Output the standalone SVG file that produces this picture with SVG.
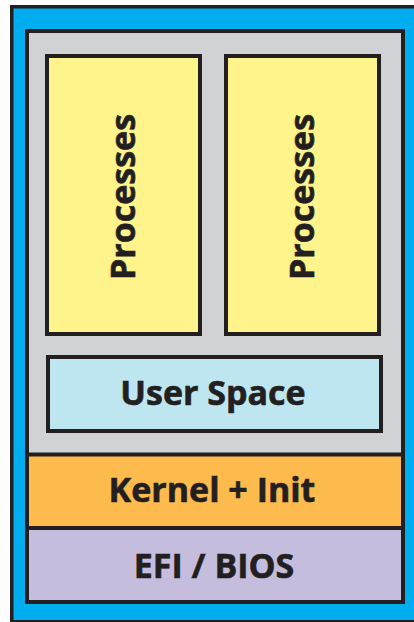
<svg xmlns="http://www.w3.org/2000/svg" width="414" height="622" viewBox="0 0 414 622">
<style>
.box{stroke:#231f20;stroke-width:4}
.lbl{font-family:"Open Sans","Liberation Sans",sans-serif;font-weight:700;fill:#231f20;stroke:#231f20;stroke-width:0.6;text-anchor:middle}
</style>
<rect width="414" height="622" fill="#ffffff"/>
<g id="outer">
<rect x="11.75" y="6.75" width="410" height="615" fill="#00aeef" stroke="#231f20" stroke-width="3.5"/>
</g>
<g id="system">
<rect class="box" x="27" y="31" width="376" height="571" fill="#d1d2d4"/>
</g>
<g id="kernel">
<rect class="box" x="27" y="454.5" width="376" height="73.5" fill="#fdbb4e"/>
<text class="lbl" x="212" y="502" font-size="34">Kernel + Init</text>
</g>
<g id="efi">
<rect class="box" x="27" y="528" width="376" height="74" fill="#c4bddd"/>
<text class="lbl" x="214" y="578" font-size="34">EFI / BIOS</text>
</g>
<g id="userspace">
<rect class="box" x="48" y="357" width="333" height="74" fill="#bee6f1"/>
<text class="lbl" x="213" y="405" font-size="34">User Space</text>
</g>
<g id="processes1">
<rect class="box" x="47" y="56" width="153" height="278" fill="#fff48c"/>
<text class="lbl" font-size="34" transform="translate(135 197) rotate(-90)">Processes</text>
</g>
<g id="processes2">
<rect class="box" x="226" y="56" width="153" height="278" fill="#fff48c"/>
<text class="lbl" font-size="34" transform="translate(314 197) rotate(-90)">Processes</text>
</g>
</svg>
